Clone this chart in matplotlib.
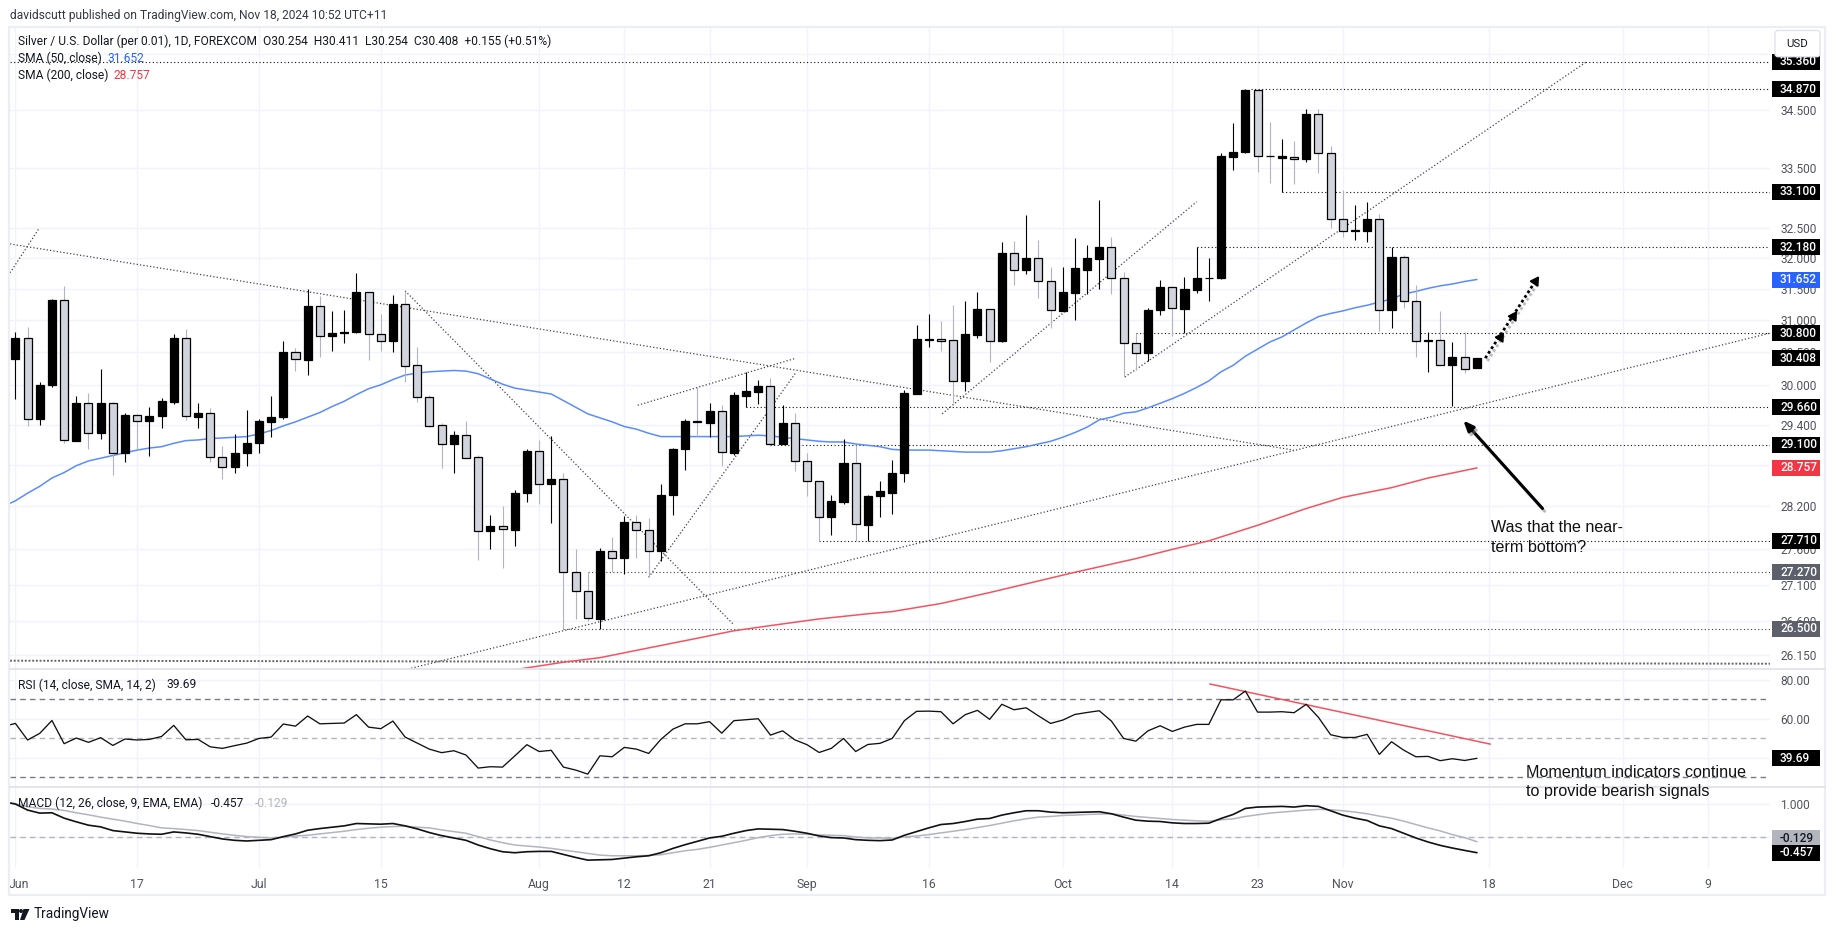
"""
silver daily chart with rsi and macd panes, tradingview look
"""

import matplotlib
matplotlib.use("Agg")
from matplotlib import pyplot as plt
from matplotlib import patheffects as pe
from matplotlib.patches import Rectangle, Polygon, FancyBboxPatch
from matplotlib.transforms import ScaledTranslation

W, H = 1835, 931

opens = [30.40, 30.73, 29.48, 30.00, 31.32, 29.16, 29.73, 29.28, 29.72, 28.97,
         29.54, 29.46, 29.53, 29.74, 30.73, 29.52, 29.58, 28.92, 28.77, 28.97,
         29.13, 29.44, 29.51, 30.50, 30.38, 31.23, 30.76, 30.80, 30.81, 31.45,
         30.78, 30.67, 31.26, 30.30, 29.82, 29.39, 29.11, 29.24, 28.92, 27.85,
         27.92, 27.87, 28.39, 29.01, 28.53, 28.60, 27.27, 27.01, 26.63, 27.56,
         27.47, 27.98, 27.87, 27.56, 28.36, 29.03, 29.46, 29.43, 29.60, 28.98,
         29.83, 29.89, 29.98, 29.11, 29.42, 28.86, 28.56, 28.05, 28.27, 28.83,
         27.94, 28.35, 28.40, 28.68, 29.86, 30.70, 30.71, 30.70, 30.06, 30.77,
         31.18, 30.67, 32.08, 31.80, 32.00, 31.63, 31.15, 31.44, 31.80, 31.99,
         32.18, 31.68, 30.65, 30.49, 31.16, 31.53, 31.18, 31.49, 31.67, 31.68,
         33.69, 33.77, 34.85, 33.71, 33.67, 33.69, 33.65, 34.44, 33.76, 32.64,
         32.45, 32.45, 32.64, 31.17, 32.01, 31.30, 30.67, 30.70, 30.30, 30.43,
         30.254]
highs = [30.81, 30.89, 30.04, 31.34, 31.54, 29.83, 29.87, 30.25, 29.74, 29.58,
         29.56, 29.67, 29.80, 30.78, 30.86, 29.72, 29.65, 29.08, 29.26, 29.62,
         29.48, 29.83, 30.68, 30.57, 31.50, 31.38, 31.15, 31.17, 31.75, 31.45,
         31.10, 31.41, 31.47, 30.59, 29.84, 29.43, 29.30, 29.46, 28.95, 28.08,
         28.21, 28.43, 29.04, 29.17, 29.23, 28.69, 27.59, 27.27, 27.61, 27.77,
         28.06, 28.07, 28.04, 28.53, 29.05, 29.48, 29.97, 29.73, 29.69, 29.89,
         30.19, 30.08, 30.10, 29.69, 29.58, 28.98, 28.57, 28.37, 29.18, 29.09,
         28.37, 28.56, 28.87, 29.92, 30.93, 31.10, 30.99, 31.24, 31.31, 31.45,
         31.18, 32.26, 32.28, 32.71, 32.30, 31.85, 31.85, 32.32, 32.22, 32.96,
         32.35, 31.77, 30.80, 31.20, 31.65, 31.55, 31.70, 32.18, 32.00, 33.75,
         34.27, 34.87, 34.87, 34.30, 34.00, 33.97, 34.53, 34.52, 33.88, 33.13,
         32.88, 32.93, 32.73, 32.18, 32.05, 31.57, 30.81, 31.15, 30.66, 30.81,
         30.411]
lows = [29.78, 29.38, 29.40, 29.97, 29.13, 29.15, 29.04, 29.19, 28.66, 28.84,
        29.03, 28.94, 29.35, 29.71, 29.47, 29.35, 28.85, 28.59, 28.69, 28.78,
        28.97, 29.22, 29.49, 30.21, 30.15, 30.43, 30.52, 30.65, 30.80, 30.38,
        30.52, 30.50, 30.04, 29.74, 29.37, 28.76, 28.68, 28.90, 27.44, 27.60,
        27.33, 27.64, 28.26, 28.23, 27.96, 26.50, 26.63, 26.60, 26.49, 27.27,
        27.25, 27.47, 27.20, 27.43, 28.07, 28.73, 29.22, 29.22, 28.79, 28.95,
        29.66, 29.71, 29.08, 29.11, 28.71, 28.35, 27.71, 27.79, 28.23, 27.71,
        27.71, 28.05, 28.09, 28.55, 29.86, 30.59, 30.52, 29.72, 29.90, 30.73,
        30.35, 30.66, 31.57, 31.74, 31.36, 30.88, 31.15, 31.00, 31.42, 31.50,
        31.42, 30.12, 30.22, 30.36, 31.08, 30.76, 30.80, 31.43, 31.30, 31.66,
        33.46, 33.76, 33.43, 33.25, 33.10, 33.23, 33.60, 33.42, 32.50, 32.34,
        32.30, 32.26, 30.83, 30.88, 31.20, 30.43, 30.20, 30.30, 29.68, 30.18,
        30.254]
closes = [30.73, 29.49, 30.00, 31.32, 29.17, 29.73, 29.28, 29.72, 28.97, 29.55,
          29.46, 29.53, 29.76, 30.73, 29.53, 29.58, 28.92, 28.77, 28.98, 29.13,
          29.45, 29.52, 30.50, 30.39, 31.23, 30.76, 30.80, 30.81, 31.45, 30.78,
          30.67, 31.26, 30.29, 29.82, 29.38, 29.11, 29.24, 28.91, 27.85, 27.92,
          27.88, 28.40, 29.01, 28.53, 28.60, 27.27, 27.01, 26.64, 27.56, 27.47,
          27.98, 27.87, 27.57, 28.37, 29.04, 29.45, 29.44, 29.60, 28.99, 29.85,
          29.90, 29.98, 29.11, 29.42, 28.86, 28.56, 28.05, 28.28, 28.83, 27.95,
          28.35, 28.42, 28.69, 29.87, 30.71, 30.71, 30.68, 30.06, 30.78, 31.18,
          30.68, 32.08, 31.81, 32.00, 31.62, 31.16, 31.45, 31.83, 32.00, 32.18,
          31.68, 30.65, 30.49, 31.16, 31.53, 31.19, 31.50, 31.68, 31.68, 33.70,
          33.78, 34.86, 33.70, 33.70, 33.70, 33.66, 34.44, 33.76, 32.65, 32.45,
          32.46, 32.65, 31.17, 32.01, 31.30, 30.67, 30.70, 30.30, 30.43, 30.25,
          30.408]

# first value of the indicator lists sits one bar left of the pane
sma50 = [28.20, 28.28, 28.39, 28.49, 28.61, 28.69, 28.79, 28.86, 28.90, 28.94,
         28.98, 29.02, 29.05, 29.07, 29.12, 29.16, 29.17, 29.19, 29.20, 29.21,
         29.22, 29.26, 29.31, 29.38, 29.44, 29.51, 29.58, 29.67, 29.75, 29.85,
         29.94, 30.00, 30.08, 30.15, 30.18, 30.20, 30.21, 30.22, 30.21, 30.17,
         30.09, 30.01, 29.95, 29.92, 29.89, 29.86, 29.76, 29.66, 29.56, 29.50,
         29.44, 29.37, 29.33, 29.27, 29.22, 29.22, 29.22, 29.22, 29.22, 29.22,
         29.22, 29.23, 29.24, 29.23, 29.21, 29.19, 29.17, 29.15, 29.14, 29.14,
         29.11, 29.09, 29.07, 29.03, 29.02, 29.02, 29.02, 29.01, 29.00, 28.99,
         28.99, 28.99, 29.01, 29.04, 29.07, 29.11, 29.15, 29.21, 29.28, 29.36,
         29.47, 29.51, 29.57, 29.59, 29.65, 29.72, 29.79, 29.87, 29.96, 30.06,
         30.20, 30.30, 30.44, 30.55, 30.66, 30.74, 30.85, 30.96, 31.06, 31.11,
         31.15, 31.20, 31.24, 31.29, 31.34, 31.42, 31.46, 31.51, 31.55, 31.58,
         31.62, 31.652]
sma200_bars = [41, 45, 48, 52, 56, 59, 62, 66, 70, 72, 76, 80, 87, 92, 95, 98,
               102, 106, 109, 113, 116, 120]
sma200 = [25.95, 26.05, 26.11, 26.24, 26.37, 26.47, 26.54, 26.63, 26.70, 26.73,
          26.84, 26.99, 27.27, 27.46, 27.59, 27.71, 27.93, 28.17, 28.33, 28.47,
          28.61, 28.757]

rsi = [56.0, 57.6, 49.1, 52.5, 59.1, 47.2, 50.1, 47.9, 50.3, 46.3, 49.6,
       49.1, 49.4, 50.9, 56.6, 49.2, 49.4, 45.6, 44.8, 46.2, 47.5,
       49.9, 50.6, 57.3, 56.2, 61.4, 57.4, 57.6, 57.8, 62.1, 55.7,
       54.9, 58.8, 50.6, 47.5, 44.4, 42.6, 43.6, 41.4, 34.7, 35.4,
       35.2, 40.9, 46.7, 43.2, 43.8, 35.2, 33.7, 31.6, 41.0, 40.5,
       45.3, 44.4, 42.2, 49.4, 54.7, 57.4, 57.4, 58.5, 52.6, 59.0,
       59.5, 60.0, 51.6, 53.8, 49.2, 46.7, 42.7, 44.8, 49.9, 43.2,
       46.8, 47.4, 49.9, 59.0, 63.8, 63.9, 63.6, 57.4, 62.1, 64.3,
       59.7, 67.4, 64.6, 65.6, 61.5, 57.6, 59.3, 62.2, 63.2, 64.1,
       58.8, 49.9, 48.5, 53.8, 56.4, 53.5, 55.7, 57.1, 57.1, 69.7,
       69.7, 74.2, 63.4, 63.4, 63.6, 63.1, 67.4, 60.7, 51.8, 50.4,
       50.4, 52.0, 41.7, 48.2, 43.9, 40.5, 40.7, 38.5, 39.5, 38.6,
       39.69]
macd = [1.06, 0.99, 0.81, 0.72, 0.73, 0.57, 0.46, 0.36, 0.31, 0.20, 0.16,
        0.12, 0.10, 0.09, 0.16, 0.13, 0.09, 0.02, -0.05, -0.09, -0.11,
        -0.09, -0.07, 0.02, 0.10, 0.21, 0.26, 0.30, 0.34, 0.41, 0.40,
        0.39, 0.41, 0.34, 0.25, 0.14, 0.05, -0.02, -0.09, -0.23, -0.34,
        -0.43, -0.46, -0.43, -0.42, -0.42, -0.51, -0.60, -0.68, -0.67, -0.66,
        -0.62, -0.58, -0.55, -0.46, -0.33, -0.22, -0.12, -0.02, 0.03, 0.12,
        0.20, 0.25, 0.24, 0.23, 0.18, 0.12, 0.04, -0.01, -0.02, -0.07,
        -0.09, -0.10, -0.08, 0.06, 0.17, 0.28, 0.38, 0.41, 0.47, 0.54,
        0.56, 0.66, 0.73, 0.79, 0.79, 0.75, 0.73, 0.74, 0.75, 0.76,
        0.70, 0.60, 0.51, 0.48, 0.47, 0.43, 0.41, 0.41, 0.42, 0.56,
        0.68, 0.86, 0.90, 0.91, 0.92, 0.90, 0.94, 0.92, 0.79, 0.66,
        0.57, 0.50, 0.34, 0.26, 0.12, -0.02, -0.14, -0.24, -0.32, -0.39,
        -0.457]
signal = [1.04, 1.00, 0.91, 0.86, 0.84, 0.80, 0.73, 0.67, 0.60, 0.54, 0.48,
          0.41, 0.35, 0.28, 0.26, 0.23, 0.20, 0.15, 0.10, 0.06, 0.02,
          0.00, -0.02, 0.00, 0.04, 0.06, 0.10, 0.14, 0.18, 0.23, 0.27,
          0.30, 0.32, 0.33, 0.30, 0.28, 0.22, 0.17, 0.12, 0.02, -0.08,
          -0.16, -0.23, -0.26, -0.29, -0.33, -0.38, -0.43, -0.48, -0.53, -0.55,
          -0.55, -0.55, -0.54, -0.52, -0.46, -0.40, -0.36, -0.30, -0.23, -0.16,
          -0.09, -0.01, 0.05, 0.09, 0.10, 0.09, 0.07, 0.06, 0.05, 0.01,
          -0.02, -0.02, -0.03, 0.01, 0.04, 0.08, 0.13, 0.18, 0.23, 0.29,
          0.35, 0.42, 0.49, 0.55, 0.60, 0.62, 0.65, 0.66, 0.68, 0.69,
          0.70, 0.66, 0.62, 0.59, 0.56, 0.53, 0.51, 0.49, 0.48, 0.52,
          0.55, 0.62, 0.67, 0.72, 0.75, 0.78, 0.81, 0.83, 0.82, 0.79,
          0.75, 0.70, 0.63, 0.57, 0.48, 0.38, 0.28, 0.19, 0.08, -0.01,
          -0.129]

time_ticks = [0, 10, 20, 30, 43, 50, 57, 65, 75, 86, 95, 102, 109, 121, 132, 139]
time_labels = ["Jun", "17", "Jul", "15", "Aug", "12", "21", "Sep", "16", "Oct",
               "14", "23", "Nov", "18", "Dec", "9"]
price_ticks = [34.5, 33.5, 32.5, 32.0, 31.5, 31.0, 30.5, 30.0, 29.4, 28.2, 27.6,
               27.1, 26.6, 26.15]
hidden_grid = [35.5, 28.8]

# level value, first bar of the line, colour of its tag
levels = [(35.36, -1, "#000000"), (34.87, 101.5, "#000000"), (33.10, 104, "#000000"),
          (32.18, 97, "#000000"), (30.80, 92, "#000000"), (29.66, 60, "#000000"),
          (29.10, 62, "#000000"), (27.71, 66, "#000000"), (27.27, 47, "#5d606b"),
          (26.50, 45, "#5d606b")]
# bar, price, bar, price
trendlines = [(-0.44, 31.76, 1.89, 32.47),
              (-0.44, 32.23, 104.96, 29.02),
              (32, 31.47, 59, 26.55),
              (32.5, 25.97, 144.08, 30.80),
              (51.1, 29.69, 64.1, 30.41),
              (52, 27.20, 64.1, 30.19),
              (76.1, 29.56, 97, 32.93),
              (91.1, 30.12, 129, 35.36)]
floor_line = (-0.44, 26.07, 144.08, 26.03)

UI_FONT = "Roboto"
GRID = "#f0f3fa"
BORDER = "#e0e3eb"
TEXT = "#131722"
AXIS_TEXT = "#50535e"
X_LEFT, X_RIGHT = 9.5, 1770.0
BAR0, BAR_STEP = 15.4, 12.178


def pane(fig, top, bottom):
    ax = fig.add_axes([X_LEFT / W, 1 - bottom / H, (X_RIGHT - X_LEFT) / W, (bottom - top) / H])
    ax.set_xlim((X_LEFT - BAR0) / BAR_STEP, (X_RIGHT - BAR0) / BAR_STEP)
    for spine in ax.spines.values():
        spine.set_visible(False)
    ax.set_xticks(time_ticks)
    ax.tick_params(length=0, labelbottom=False, labelright=True, labelleft=False,
                   labelsize=8.6, labelcolor=AXIS_TEXT, pad=7.2)
    ax.grid(True, axis="both", which="major", color=GRID, lw=1.0, zorder=0)
    ax.set_axisbelow(True)
    return ax


def tag(chrome, ax, value, text, color, shift=0.0, text_color="white"):
    # coloured price tag at the right of a pane, drawn in pixel space
    _, y = ax.transData.transform((0, value))
    y = H - y + shift
    chrome.add_patch(Rectangle((1772, y - 8), 48, 16, fc=color, ec="none", zorder=6))
    chrome.text(1780, y, text, color=text_color, fontsize=8.6, family=UI_FONT, va="center",
                ha="left", weight="medium", zorder=7)


fig = plt.figure(figsize=(W / 100, H / 100), dpi=100, facecolor="white")
ax = pane(fig, 27, 669)
ax_rsi = pane(fig, 669, 787)
ax_macd = pane(fig, 787, 868)

# main pane
ax.set_yscale("log")
ax.set_ylim(25.96, 35.993)
ax.set_yticks(price_ticks + hidden_grid)
ax.set_yticklabels([f"{v:.3f}" for v in price_ticks] + ["", ""], family=UI_FONT)
ax.minorticks_off()

for value, start, color in levels:
    ax.plot([start, 144.08], [value, value], color="#111111" if color == "#000000" else "#444444",
            lw=0.8, ls=(0, (1, 2.2)), zorder=2)
for x0, y0, x1, y1 in trendlines:
    ax.plot([x0, x1], [y0, y1], color="#444444", lw=0.9, ls=(0, (1, 1.7)), zorder=2)
ax.plot(floor_line[0::2], floor_line[1::2], color="#666666", lw=1.4, ls=(0, (1, 0.9)), zorder=2)

sma_x = list(range(-1, 121))
ax.plot(sma_x, sma50, color="#5b8cff", lw=1.1, zorder=3)
ax.plot(sma200_bars, sma200, color="#f7525f", lw=1.1, zorder=3)

bars = list(range(len(closes)))
up = [i for i in bars if closes[i] >= opens[i]]
down = [i for i in bars if closes[i] < opens[i]]
ax.vlines(down, [lows[i] for i in down], [highs[i] for i in down], color="#b2b5be", lw=0.8, zorder=4)
ax.vlines(up, [lows[i] for i in up], [highs[i] for i in up], color="#000000", lw=0.8, zorder=4)
ax.bar(down, [opens[i] - closes[i] for i in down], bottom=[closes[i] for i in down], width=0.66,
       color="#d1d4dc", edgecolor="#000000", lw=0.9, zorder=5)
ax.bar(up, [closes[i] - opens[i] for i in up], bottom=[opens[i] for i in up], width=0.66,
       color="#000000", edgecolor="#000000", lw=0.9, zorder=5)

# annotations on the chart
shadow = [pe.SimpleLineShadow(offset=(1.5, -2), shadow_color="#777777", alpha=0.5), pe.Normal()]
ax.annotate("", xy=(118.9, 29.46), xytext=(125.4, 28.17), zorder=8,
            arrowprops=dict(arrowstyle="-|>,head_width=0.25,head_length=0.6", color="black",
                            lw=2.2, shrinkA=0, shrinkB=0, path_effects=shadow))
ax.plot([120.7, 124.8], [30.41, 31.62], color="black", lw=2.0, ls=(0, (1, 1)), zorder=8,
        path_effects=shadow)
ax.plot([121.9, 123.0, 124.8], [30.74, 31.07, 31.62], ls="none", marker=(3, 0, -33), ms=7.5,
        color="black", zorder=8)

# rsi pane
ax_rsi.set_ylim(25.0, 85.5)
ax_rsi.set_yticks([40, 60, 80])
ax_rsi.set_yticklabels(["", "60.00", "80.00"], family=UI_FONT)
for level, color in [(70, "#787b86"), (50, "#b2b5be"), (30, "#787b86")]:
    ax_rsi.axhline(level, color=color, lw=1.0, ls=(0, (4, 3)), zorder=2)
ax_rsi.plot(sma_x, rsi, color="#111111", lw=0.95, zorder=4)
ax_rsi.plot([98.1, 121.1], [77.8, 47.0], color="#f7525f", lw=1.1, zorder=3)

# macd pane
ax_macd.set_ylim(-0.914, 1.497)
ax_macd.set_yticks([0, 1])
ax_macd.set_yticklabels(["", "1.000"], family=UI_FONT)
ax_macd.axhline(0, color="#b2b5be", lw=1.0, ls=(0, (4, 3)), zorder=2)
ax_macd.plot(sma_x, signal, color="#b2b5be", lw=1.1, zorder=3)
ax_macd.plot(sma_x, macd, color="#111111", lw=1.2, zorder=4)
ax_macd.set_xticklabels(time_labels, family=UI_FONT)
ax_macd.tick_params(axis="x", labelbottom=True, pad=7.5, labelsize=8.8)
jun = ax_macd.get_xticklabels()[0]
jun.set_transform(jun.get_transform() + ScaledTranslation(2.2 / 72, 0, fig.dpi_scale_trans))

# everything around the panes, in pixels
chrome = fig.add_axes([0, 0, 1, 1], zorder=10)
chrome.set_xlim(0, W)
chrome.set_ylim(H, 0)
chrome.axis("off")
chrome.patch.set_alpha(0)

chrome.add_patch(Rectangle((9, 27), 1816, 868, fc="none", ec="#eceef3", lw=1.6))
chrome.plot([9.5, 1825], [669, 669], color=BORDER, lw=1.3)
chrome.plot([9.5, 1825], [787, 787], color=BORDER, lw=1.3)


def label(x, y, text, color=TEXT, size=8.62):
    chrome.text(x, y, text, color=color, fontsize=size, family=UI_FONT, va="center", ha="left")


label(10, 15, "davidscutt published on TradingView.com, Nov 18, 2024 10:52 UTC+11", "#333844")
label(18, 41.7, "Silver / U.S. Dollar (per 0.01), 1D, FOREXCOM  O30.254  H30.411  L30.254  C30.408  +0.155 (+0.51%)")
label(18, 58.7, "SMA (50, close)")
label(107.5, 58.7, "31.652", "#2962ff")
label(18, 75.7, "SMA (200, close)")
label(113.5, 75.7, "28.757", "#f23645")
label(17.6, 685, "RSI (14, close, SMA, 14, 2)")
label(166.7, 685, "39.69")
label(17.6, 803.3, "MACD (12, 26, close, 9, EMA, EMA)")
label(211, 803.3, "-0.457")
label(255, 803.3, "-0.129", "#b2b5be")

for value, start, color in levels:
    tag(chrome, ax, value, f"{value:.3f}", color)
tag(chrome, ax, sma50[-1], "31.652", "#2962ff")
tag(chrome, ax, sma200[-1], "28.757", "#f23645")
tag(chrome, ax, closes[-1], "30.408", "#000000")
tag(chrome, ax_rsi, rsi[-1], "39.69", "#000000")
tag(chrome, ax_macd, signal[-1], "-0.129", "#b2b5be", shift=-3.5, text_color=TEXT)
tag(chrome, ax_macd, macd[-1], "-0.457", "#000000")

chrome.add_patch(FancyBboxPatch((1775, 30.5), 45, 26.2, boxstyle="round,pad=0,rounding_size=3",
                                fc="white", ec="#e0e3eb", lw=1.0, zorder=8))
chrome.text(1797.5, 44.3, "USD", color=TEXT, fontsize=8.2, family=UI_FONT, ha="center", va="center", zorder=9)

# text boxes drawn on the chart
note_font = dict(family="Liberation Sans", fontsize=11.6, color="#111111", va="center", ha="left", zorder=9)
chrome.text(1491, 528, "Was that the near-", **note_font)
chrome.text(1491, 547.5, "term bottom?", **note_font)
chrome.text(1526, 772.7, "Momentum indicators continue", **note_font)
chrome.text(1526, 791.7, "to provide bearish signals", **note_font)

# tradingview logo
chrome.add_patch(Polygon([(10.5, 909), (19, 909), (19, 920), (15, 920), (15, 913), (10.5, 913)], fc="#131722"))
chrome.add_patch(Polygon([(23.5, 909), (29.5, 909), (24.5, 920), (20, 920)], fc="#131722"))
chrome.add_patch(plt.Circle((21, 911), 2, fc="#131722"))
label(33.5, 914, "TradingView", "#131722", 9.8)

fig.savefig("out.png", dpi=100)
